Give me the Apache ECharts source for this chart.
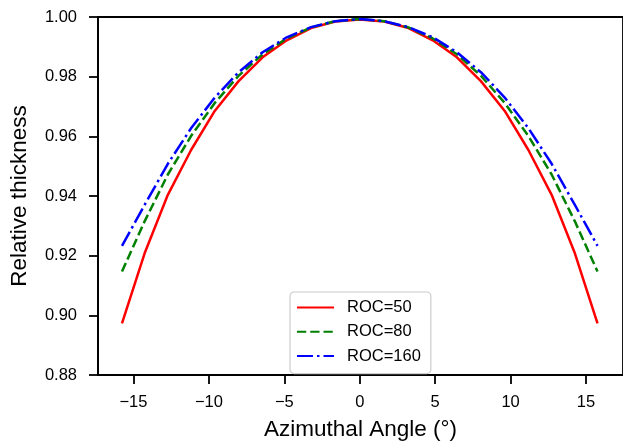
<!DOCTYPE html>
<html>
<head>
<meta charset="utf-8">
<script src="https://cdn.jsdelivr.net/npm/echarts@6/dist/echarts.min.js"></script>
<style>
html,body{margin:0;padding:0;background:#fff;}
#chart{width:623px;height:446px;}
</style>
</head>
<body>
<div id="chart"></div>
<script>
// Azimuthal angle (degrees)
const angles = [-15.76, -14.26, -12.72, -11.17, -9.61, -8.03, -6.44, -4.84, -3.23, -1.62, 0,
                1.62, 3.23, 4.84, 6.44, 8.03, 9.61, 11.17, 12.72, 14.26, 15.76];
const roc50 = [0.8973, 0.9208, 0.9404, 0.9555, 0.9685, 0.9785, 0.9865, 0.9922, 0.9963, 0.9985, 0.9992,
               0.9985, 0.9963, 0.9922, 0.9865, 0.9785, 0.9685, 0.9555, 0.9404, 0.9208, 0.8973];
const roc80 = [0.9147, 0.9315, 0.9472, 0.9602, 0.9712, 0.9803, 0.9875, 0.9928, 0.9965, 0.9986, 0.9993,
               0.9986, 0.9965, 0.9928, 0.9875, 0.9803, 0.9712, 0.9602, 0.9472, 0.9315, 0.9147];
const roc160 = [0.9233, 0.9370, 0.9508, 0.9628, 0.9730, 0.9815, 0.9882, 0.9932, 0.9966, 0.9986, 0.9993,
                0.9986, 0.9966, 0.9932, 0.9882, 0.9815, 0.9730, 0.9628, 0.9508, 0.9370, 0.9233];
const xTicks = [-15, -10, -5, 0, 5, 10, 15];
const seriesNames = ['ROC=50', 'ROC=80', 'ROC=160'];

const pair = (ys) => angles.map((x, i) => [x, ys[i]]);
const font = 'Liberation Sans, Arial, sans-serif';
const fmtX = v => (v < 0 ? '\u2212' + Math.abs(v) : String(v));

const chart = echarts.init(document.getElementById('chart'), null, {renderer: 'canvas'});
chart.setOption({
  animation: false,
  backgroundColor: '#fff',
  grid: {left: 97, top: 17, bottom: 67, right: -3, show: true, borderColor: '#000', borderWidth: 1.8, containLabel: false},
  xAxis: {
    type: 'value', min: -17.35, max: 17.45,
    name: 'Azimuthal Angle (°)', nameLocation: 'middle', nameGap: 43,
    nameTextStyle: {fontFamily: font, fontSize: 22.5, color: '#000'},
    axisLine: {show: true, onZero: false, lineStyle: {color: '#000', width: 1.8}},
    axisTick: {show: true, inside: false, length: 9, customValues: xTicks, lineStyle: {color: '#000', width: 1.8}},
    axisLabel: {customValues: xTicks, formatter: fmtX, margin: 19, fontFamily: font, fontSize: 16.5, color: '#000'},
    splitLine: {show: false}
  },
  yAxis: {
    type: 'value', min: 0.88, max: 1.00, interval: 0.02,
    name: 'Relative thickness', nameLocation: 'middle', nameGap: 67, nameRotate: 90,
    nameTextStyle: {fontFamily: font, fontSize: 22.5, color: '#000'},
    axisLine: {show: true, onZero: false, lineStyle: {color: '#000', width: 1.8}},
    axisTick: {show: true, inside: false, length: 9, lineStyle: {color: '#000', width: 1.8}},
    axisLabel: {formatter: v => v.toFixed(2), margin: 21, fontFamily: font, fontSize: 16.5, color: '#000'},
    splitLine: {show: false}
  },
  legend: {
    orient: 'vertical', left: 290, top: 292,
    data: seriesNames,
    itemWidth: 37, itemHeight: 16, itemGap: 7.3,
    padding: [7, 10, 9, 6],
    itemStyle: {opacity: 0},
    backgroundColor: '#fff', borderColor: '#cccccc', borderWidth: 1.2, borderRadius: 4,
    textStyle: {fontFamily: font, fontSize: 16.5, color: '#000', padding: [0, 0, 0, 8]}
  },
  series: [
    {name: seriesNames[0], type: 'line', data: pair(roc50), symbol: 'none', smooth: false,
     lineStyle: {color: '#ff0000', width: 2.5, type: 'solid'}, itemStyle: {color: '#ff0000'}},
    {name: seriesNames[1], type: 'line', data: pair(roc80), symbol: 'none', smooth: false,
     lineStyle: {color: '#008000', width: 2.5, type: [9.25, 4]}, itemStyle: {color: '#008000'}},
    {name: seriesNames[2], type: 'line', data: pair(roc160), symbol: 'none', smooth: false,
     lineStyle: {color: '#0000ff', width: 2.5, type: [16, 4, 2.5, 4]}, itemStyle: {color: '#0000ff'}}
  ]
});
</script>
</body>
</html>
